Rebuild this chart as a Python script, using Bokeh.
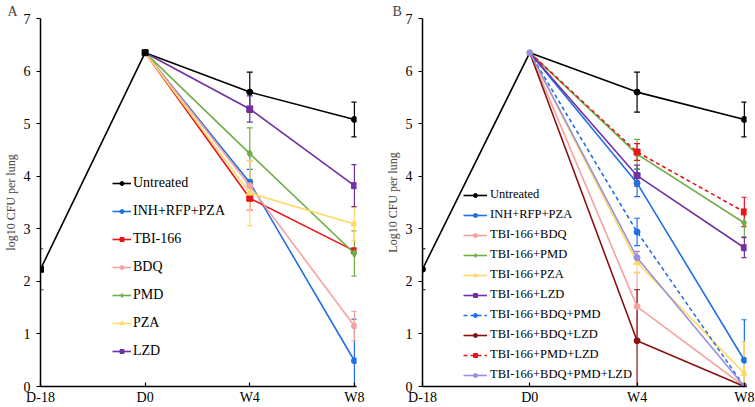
from bokeh.plotting import figure
from bokeh.models import (Range1d, FixedTicker, Legend, LegendItem, Whisker,
                          TeeHead, ColumnDataSource)
from bokeh.layouts import row
from bokeh.embed import file_html
from bokeh.resources import INLINE

# ---------------- data ----------------
time_labels = ["D-18", "D0", "W4", "W8"]
infection_mean = [2.23, 6.35]      # D-18, D0 (shared by all groups)
infection_err = [0.39, 0.0]

a_names = ["Untreated", "INH+RFP+PZA", "TBI-166", "BDQ", "PMD", "PZA", "LZD"]
a_w4 = [5.60, 3.88, 3.58, 3.82, 4.43, 3.68, 5.28]
a_w4_err = [0.38, 0.25, 0.23, 0.47, 0.49, 0.62, 0.25]
a_w8 = [5.08, 0.49, 2.58, 1.15, 2.53, 3.09, 3.82]
a_w8_err = [0.33, 0.79, 0.05, 0.28, 0.43, 0.32, 0.40]

b_names = ["Untreated", "INH+RFP+PZA", "TBI-166+BDQ", "TBI-166+PMD",
           "TBI-166+PZA", "TBI-166+LZD", "TBI-166+BDQ+PMD", "TBI-166+BDQ+LZD",
           "TBI-166+PMD+LZD", "TBI-166+BDQ+PMD+LZD"]
b_w4 = [5.60, 3.87, 1.52, 4.42, 2.36, 4.01, 2.94, 0.87, 4.46, 2.45]
b_w4_err = [0.38, 0.26, 0.65, 0.28, 0.20, 0.20, 0.26, 0.97, 0.16, 0.12]
b_w8 = [5.08, 0.50, 0.0, 3.11, 0.25, 2.64, 0.0, 0.0, 3.32, 0.0]
b_w8_err = [0.33, 0.77, 0.0, 0.26, 0.60, 0.19, 0.0, 0.0, 0.28, 0.0]

# ---------------- styles ----------------
a_colors = ["#000000", "#1f6fe5", "#e8141b", "#f4a2a2", "#70ad47", "#ffd966", "#7030a0"]
a_markers = ["circle", "circle", "square", "circle", "diamond", "triangle", "square"]
a_dash = ["solid"] * 7
b_colors = ["#000000", "#1f6fe5", "#f4a2a2", "#70ad47", "#ffd966", "#7030a0",
            "#1f6fe5", "#8b1010", "#e8141b", "#9a8fdc"]
b_markers = ["circle", "circle", "circle", "diamond", "triangle", "square",
             "circle", "circle", "square", "circle"]
b_dash = ["solid"] * 6 + ["4 3", "solid", "4 3", "solid"]

FONT = "Liberation Serif"
MSIZE = {"circle": 6, "square": 6, "triangle": 7, "diamond": 8}
X = list(range(len(time_labels)))


def whisk(p, xs, ys, errs, color):
    xs2, up, lo = [], [], []
    for x, y, e in zip(xs, ys, errs):
        if e > 0:
            xs2.append(x)
            up.append(y + e)
            lo.append(max(y - e, 0.0))
    if not xs2:
        return
    src = ColumnDataSource(dict(x=xs2, upper=up, lower=lo))
    w = Whisker(base="x", upper="upper", lower="lower", source=src,
                dimension="height", line_color=color, line_width=1.2,
                upper_head=TeeHead(size=6, line_color=color, line_width=1.2),
                lower_head=TeeHead(size=6, line_color=color, line_width=1.2))
    p.add_layout(w)


def panel(letter, ylabel, names, w4, w4e, w8, w8e, colors, markers, dashes,
          width, left, right, top, bottom, d0_color, d0_marker, d18_marker,
          d18_err_color, leg_loc, glyph_w, row_h, spacing, standoff,
          leg_font, letter_dx):
    p = figure(width=width, height=407, output_backend="svg", toolbar_location=None,
               x_range=Range1d(0, 3.02), y_range=Range1d(0, 7),
               min_border_left=left, min_border_right=right,
               min_border_top=top, min_border_bottom=bottom)
    p.outline_line_color = None
    p.grid.visible = False
    p.background_fill_color = "white"
    p.border_fill_color = "white"

    p.title.text = letter
    p.title.text_font = FONT
    p.title.text_font_style = "normal"
    p.title.text_font_size = "14px"
    p.title.align = "left"
    p.title.offset = letter_dx
    p.title.standoff = 0
    p.title.text_line_height = 1.0

    p.xaxis.ticker = FixedTicker(ticks=X)
    p.xaxis.major_label_overrides = {i: t for i, t in enumerate(time_labels)}
    p.yaxis.ticker = FixedTicker(ticks=list(range(8)))
    for ax in (p.xaxis, p.yaxis):
        ax.axis_line_color = "black"
        ax.axis_line_width = 1.5
        ax.major_tick_line_color = "black"
        ax.major_tick_line_width = 1.2
        ax.minor_tick_line_color = None
        ax.major_label_text_font = FONT
        ax.major_label_text_font_size = "14px"
        ax.major_label_text_color = "black"
    p.xaxis.major_tick_in = 4
    p.xaxis.major_tick_out = 0
    p.xaxis.major_label_standoff = 3
    p.yaxis.major_tick_in = 0
    p.yaxis.major_tick_out = 4
    p.yaxis.major_label_standoff = 6
    p.yaxis.axis_label = ylabel
    p.yaxis.axis_label_text_font = FONT
    p.yaxis.axis_label_text_font_style = "normal"
    p.yaxis.axis_label_text_font_size = "12px"
    p.yaxis.axis_label_standoff = 3

    # infection phase error bar (D-18)
    whisk(p, [X[0]], [infection_mean[0]], [infection_err[0]], d18_err_color)

    items = []
    for i, name in enumerate(names):
        c, m, d = colors[i], markers[i], dashes[i]
        if i == 0:
            xs = X
            ys = infection_mean + [w4[i], w8[i]]
        else:
            xs = X[1:]
            ys = [infection_mean[1], w4[i], w8[i]]
        whisk(p, X[2:], [w4[i], w8[i]], [w4e[i], w8e[i]], c)
        ln = p.line(xs, ys, line_color=c, line_width=1.6, line_dash=d)
        sc = p.scatter(X[2:], [w4[i], w8[i]], marker=m, size=MSIZE[m],
                       fill_color=c, line_color=c)
        items.append(LegendItem(label=name, renderers=[ln, sc]))

    # shared D-18 / D0 markers
    p.scatter([X[0]], [infection_mean[0]], marker=d18_marker, size=6,
              fill_color="black", line_color="black")
    p.scatter([X[1]], [infection_mean[1]], marker=d0_marker, size=6,
              fill_color=d0_color, line_color=d0_color)

    leg = Legend(items=items, location=leg_loc, orientation="vertical")
    leg.background_fill_alpha = 0
    leg.border_line_color = None
    leg.padding = 0
    leg.margin = 0
    leg.spacing = spacing
    leg.glyph_width = glyph_w
    leg.glyph_height = 10
    leg.label_height = row_h
    leg.label_standoff = standoff
    leg.label_text_font = FONT
    leg.label_text_font_size = leg_font
    leg.label_text_color = "black"
    p.add_layout(leg)
    return p


pa = panel("A", "log10 CFU per lung", a_names, a_w4, a_w4_err, a_w8, a_w8_err,
           a_colors, a_markers, a_dash, width=375, left=35, right=19, top=14,
           bottom=21, d0_color="black", d0_marker="square", d18_marker="square",
           d18_err_color="#7030a0", leg_loc=(72, 27), glyph_w=19, row_h=14,
           spacing=12, standoff=2, leg_font="14px", letter_dx=-33)
pb = panel("B", "Log10 CFU per lung", b_names, b_w4, b_w4_err, b_w8, b_w8_err,
           b_colors, b_markers, b_dash, width=380, left=47, right=9, top=18,
           bottom=20, d0_color="#9a8fdc", d0_marker="circle", d18_marker="circle",
           d18_err_color="black", leg_loc=(41, 4), glyph_w=24, row_h=14,
           spacing=5, standoff=3, leg_font="12.5px", letter_dx=-30)

layout = row(pa, pb)
open("out.html", "w").write(file_html(layout, INLINE))
